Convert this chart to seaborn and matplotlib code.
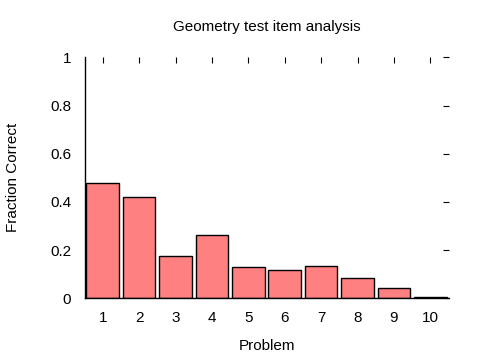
import matplotlib
matplotlib.use("Agg")
import matplotlib.pyplot as plt
import seaborn as sns
import pandas as pd

problems = ["1", "2", "3", "4", "5", "6", "7", "8", "9", "10"]
fraction_correct = [0.477, 0.419, 0.174, 0.261, 0.129, 0.116, 0.134, 0.083, 0.041, 0.004]
y_ticks = [0, 0.2, 0.4, 0.6, 0.8, 1.0]
y_tick_labels = ["0", "0.2", "0.4", "0.6", "0.8", "1"]

sns.set_style("white")
plt.rcParams["font.family"] = ["Liberation Sans", "DejaVu Sans"]
plt.rcParams["font.size"] = 11

df = pd.DataFrame({"Problem": problems, "Fraction": fraction_correct})

fig = plt.figure(figsize=(4.8, 3.6), dpi=100)
ax = fig.add_axes([84.5 / 480, 61.7 / 360, (448.5 - 84.5) / 480, (298.3 - 57.3) / 360])

sns.barplot(data=df, x="Problem", y="Fraction", color="#ff8080", saturation=1,
            edgecolor="black", linewidth=1, width=0.9, ax=ax)

ax.set_xlim(-0.5, len(problems) - 0.5)
ax.set_ylim(0, 1)
ax.set_yticks(y_ticks)
ax.set_yticklabels(y_tick_labels)

for side in ["top", "right"]:
    ax.spines[side].set_visible(False)
for side in ["left", "bottom"]:
    ax.spines[side].set_color("black")
    ax.spines[side].set_linewidth(1)

ax.tick_params(direction="in", top=True, right=True, length=4, width=0.8,
               color="black", labelsize=11, pad=9.5, labelcolor="black")

ax.set_title("Geometry test item analysis", fontsize=11, pad=19, color="black")
ax.set_xlabel("Problem", fontsize=11, color="black")
ax.set_ylabel("Fraction Correct", fontsize=11, color="black")
ax.xaxis.set_label_coords(0.5, -0.168)
ax.yaxis.set_label_coords(-0.178, 0.5)

fig.savefig("out.png", dpi=100)
